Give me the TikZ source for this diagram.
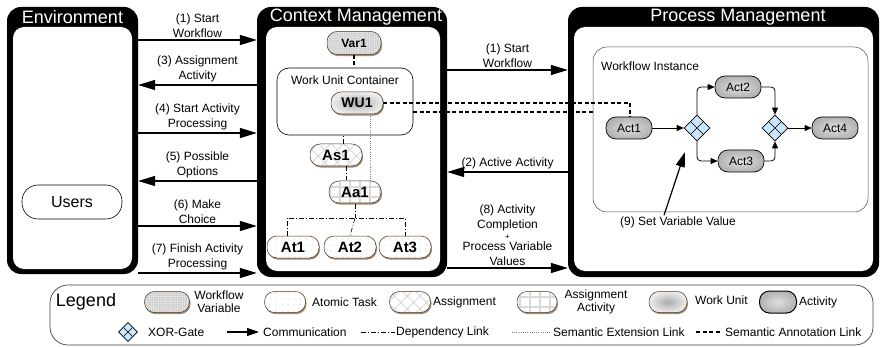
\documentclass[tikz,border=0pt]{standalone}
\usepackage{fontspec}
\setmainfont{Liberation Sans}
\usetikzlibrary{arrows.meta,positioning,shapes.geometric,shadows,patterns.meta}
\definecolor{gatefill}{RGB}{204,230,255}

\begin{document}
\begin{tikzpicture}[x=1pt,y=-1pt,
  outerbox/.style={rectangle,rounded corners=14pt,fill=black,inner sep=0pt},
  innerbox/.style={rectangle,rounded corners=11pt,fill=white,inner sep=0pt},
  boxtitle/.style={text=white,inner sep=0pt,font=\fontsize{18}{18}\selectfont},
  commarrow/.style={line width=1.4pt,-{Triangle[length=17pt,width=10pt]}},
  lbl/.style={above=1pt,align=center,inner sep=1pt,font=\fontsize{12}{15}\selectfont},
  txt/.style={inner sep=1pt,align=center,font=\fontsize{12}{13}\selectfont},
  pill/.style={rectangle,rounded corners=10pt,draw=brown!40!black,line width=0.5pt,inner sep=0pt,
    minimum width=52pt,minimum height=22pt,font=\bfseries\fontsize{15}{15}\selectfont,
    drop shadow={shadow xshift=1pt,shadow yshift=-1.6pt,fill=brown!35!gray,opacity=0.9}},
  wfvar/.style={pill,preaction={fill=gray!35},pattern={Dots[distance=2.4pt,radius=0.55pt]},pattern color=white},
  atomtask/.style={pill,preaction={fill=white},pattern={Dots[distance=6pt,radius=0.5pt]},pattern color=gray!70},
  assign/.style={pill,preaction={fill=white},pattern={Hatch[angle=45,distance=9pt,line width=0.7pt]},pattern color=gray!35},
  assignact/.style={pill,preaction={fill=white},pattern={Hatch[angle=0,distance=10pt,line width=1.2pt]},pattern color=gray!30},
  workunit/.style={pill,shading=radial,inner color=gray!65,outer color=gray!15},
  activity/.style={rectangle,rounded corners=10pt,draw=black,line width=0.7pt,shading=radial,
    inner color=gray!25,outer color=gray!60,inner sep=0pt,minimum width=46pt,minimum height=22pt,
    font=\fontsize{12}{12}\selectfont},
  xorgate/.style={diamond,draw=black,line width=0.6pt,fill=gatefill,inner sep=0pt,minimum width=26pt,minimum height=26pt,
    path picture={\draw[line width=0.6pt] (path picture bounding box.south west) -- (path picture bounding box.north east)
      (path picture bounding box.north west) -- (path picture bounding box.south east);}},
  flowarrow/.style={line width=0.8pt,rounded corners=4pt,-{Triangle[length=7pt,width=6pt]}},
  annotlink/.style={line width=1.6pt,dash pattern=on 4pt off 2.5pt},
  deplink/.style={line width=0.6pt,dash pattern=on 5pt off 2pt on 1pt off 2pt},
  extlink/.style={line width=0.6pt,gray,dash pattern=on 1pt off 1.2pt}]

  \useasboundingbox (0,0) rectangle (882,347);

  \node[outerbox,minimum width=131pt,minimum height=267pt] (env) at (72.5,140.5) {};
  \node[innerbox,minimum width=119pt,minimum height=242pt] (envin) at (72.5,148) {};
  \node[boxtitle] (envtitle) at (72.5,17) {Environment};
  \node[rectangle,rounded corners=16pt,draw=black,line width=0.6pt,minimum width=100pt,minimum height=34pt,
    font=\fontsize{16}{16}\selectfont] (users) at (72,202) {Users};

  \node[outerbox,minimum width=190pt,minimum height=270pt] (ctx) at (352,142) {};
  \node[innerbox,minimum width=174pt,minimum height=244pt] (ctxin) at (353,149) {};
  \node[boxtitle] (ctxtitle) at (356,17) {Context Management};

  \node[outerbox,minimum width=311pt,minimum height=270pt] (proc) at (723.5,142) {};
  \node[innerbox,minimum width=299pt,minimum height=244pt] (procin) at (723.5,149) {};
  \node[boxtitle] (proctitle) at (738,17) {Process Management};

  \path[commarrow] (env.east |- 0,40) edge node[lbl] {(1) Start\\Workflow} (ctx.west |- 0,40);
  \path[commarrow] (ctx.west |- 0,85) edge node[lbl] {(3) Assignment\\Activity} (env.east |- 0,85);
  \path[commarrow] (env.east |- 0,133) edge node[lbl] {(4) Start Activity\\Processing} (ctx.west |- 0,133);
  \path[commarrow] (ctx.west |- 0,181) edge node[lbl] {(5) Possible\\Options} (env.east |- 0,181);
  \path[commarrow] (env.east |- 0,226) edge node[lbl] {(6) Make\\Choice} (ctx.west |- 0,226);
  \path[commarrow] (env.east |- 0,273) edge node[lbl] {(7) Finish Activity\\Processing} (ctx.west |- 0,273);

  \path[commarrow] (ctx.east |- 0,70) edge node[lbl] {(1) Start\\Workflow} (proc.west |- 0,70);
  \path[commarrow] (proc.west |- 0,172) edge node[lbl] {(2) Active Activity} (ctx.east |- 0,172);
  \path[commarrow] (ctx.east |- 0,268) edge node[lbl] {(8) Activity\\Completion\\[-4pt]{\fontsize{8}{8}\selectfont +}\\[-4pt]Process Variable\\Values} (proc.west |- 0,268);

  \node[wfvar,minimum width=54pt,minimum height=23pt,font=\bfseries\fontsize{12}{12}\selectfont] (var1) at (354,43) {Var1};
  \node[rectangle,rounded corners=12pt,draw=black,line width=0.6pt,minimum width=136pt,minimum height=67pt] (wuc) at (345,101.5) {};
  \node[txt] (wuclbl) at (345,80) {Work Unit Container};
  \node[workunit,font=\bfseries\fontsize{14}{14}\selectfont] (wu1) at (357,103) {WU1};
  \node[assign] (as1) at (336,155) {As1};
  \node[assignact] (aa1) at (355,192) {Aa1};
  \node[atomtask] (at1) at (293,247) {At1};
  \node[atomtask] (at2) at (350,247) {At2};
  \node[atomtask] (at3) at (405,247) {At3};

  \draw[annotlink] (var1.south) -- (var1.south |- wuc.north);
  \draw[deplink] ([xshift=7pt]as1.north) -- ([xshift=7pt]as1.north |- wuc.south);
  \draw[deplink] ([xshift=10pt]as1.south) -- ([xshift=10pt]as1.south |- aa1.north);
  \draw[extlink] ([xshift=13pt]wu1.south) -- ([xshift=13pt]wu1.south |- aa1.north);
  \coordinate (fork) at (aa1.south |- 0,218);
  \draw[deplink] (aa1.south) -- (fork);
  \draw[deplink] ([xshift=-6pt]at1.north) -- ([xshift=-6pt]at1.north |- fork) -- (at3.north |- fork) -- (at3.north);
  \draw[deplink] (fork) -- (at2.north);

  \node[rectangle,rounded corners=14pt,draw=gray!60!black,line width=0.5pt,minimum width=275pt,minimum height=165pt] (wfi) at (730.5,129.5) {};
  \node[txt,anchor=west] (wfilbl) at (600,66) {Workflow Instance};
  \node[activity] (act1) at (629,128) {Act1};
  \node[xorgate] (g1) at (697,128) {};
  \node[activity] (act2) at (738,87) {Act2};
  \node[activity] (act3) at (741,161) {Act3};
  \node[xorgate] (g2) at (775,128) {};
  \node[activity] (act4) at (835,128) {Act4};

  \draw[flowarrow] (act1) -- (g1);
  \draw[flowarrow] (g1.north) |- (act2.west);
  \draw[flowarrow] (g1.south) |- (act3.west);
  \draw[flowarrow] (act2.east) -| (g2.north);
  \draw[flowarrow] (act3.east) -| (g2.south);
  \draw[flowarrow] (g2) -- (act4);

  \node[txt] (setvar) at (678,222) {(9) Set Variable Value};
  \coordinate (setpt) at (685,152);
  \draw[line width=1.2pt,-{Triangle[length=15pt,width=9pt]}] ([xshift=-14pt]setvar.north) -- (setpt);

  \draw[annotlink] (wu1.east) -| ([xshift=1pt]act1.north);
  \draw[annotlink] (wuc.east |- 0,112) -- (wfi.west |- 0,112);

  \node[rectangle,rounded corners=18pt,draw=black!75,line width=0.7pt,minimum width=823pt,minimum height=60pt] (legend) at (461.5,315) {};
  \node[font=\fontsize{18}{18}\selectfont] (legtitle) at (86,302) {Legend};
  \node[wfvar,minimum width=45pt,minimum height=21pt] (legwv) at (167,302) {};
  \node[txt] (legwvlbl) at (219,302) {Workflow\\Variable};
  \node[atomtask,minimum width=41pt,minimum height=21pt] (legat) at (285,302) {};
  \node[txt,anchor=west] (legatlbl) at (311,302) {Atomic Task};
  \node[assign,minimum width=41pt,minimum height=21pt] (legas) at (410,302) {};
  \node[txt,anchor=west] (legaslbl) at (432,302) {Assignment};
  \node[assignact,minimum width=40pt,minimum height=21pt] (legaa) at (537,302) {};
  \node[txt] (legaalbl) at (596,302) {Assignment\\Activity};
  \node[workunit,minimum width=38pt,minimum height=21pt] (legwu) at (668,302) {};
  \node[txt,anchor=west] (legwulbl) at (694,300) {Work Unit};
  \node[activity,minimum width=37pt,line width=1pt] (legact) at (778,302) {};
  \node[txt,anchor=west] (legactlbl) at (798,302) {Activity};

  \node[xorgate,minimum width=19pt,minimum height=19pt] (legxor) at (128,332) {};
  \node[txt,anchor=west] (legxorlbl) at (147,332) {XOR-Gate};
  \node[txt,anchor=west] (legcommlbl) at (262,332) {Communication};
  \draw[line width=1.2pt,-{Triangle[length=12pt,width=8pt]}] ([xshift=-35pt]legcommlbl.west) -- ([xshift=-3pt]legcommlbl.west);
  \node[txt,anchor=west] (legdeplbl) at (395,332) {Dependency Link};
  \draw[deplink] ([xshift=-34pt]legdeplbl.west) -- (legdeplbl.west);
  \node[txt,anchor=west] (legextlbl) at (552,332) {Semantic Extension Link};
  \draw[extlink] ([xshift=-40pt]legextlbl.west) -- ([xshift=-2pt]legextlbl.west);
  \node[txt,anchor=west] (legannlbl) at (724,332) {Semantic Annotation Link};
  \draw[annotlink] ([xshift=-28pt]legannlbl.west) -- ([xshift=-4pt]legannlbl.west);
\end{tikzpicture}
\end{document}
